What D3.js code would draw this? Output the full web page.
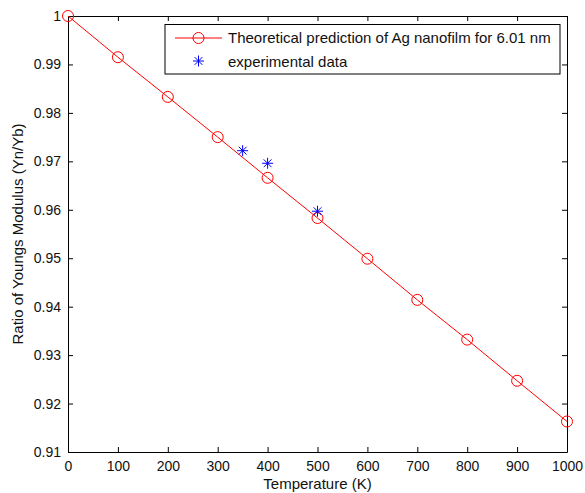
<!DOCTYPE html>
<html>
<head>
<meta charset="utf-8">
<script src="https://cdn.jsdelivr.net/npm/d3@7"></script>
<style>
  body { margin: 0; background: #fff; }
  text { font-family: "Liberation Sans", Arial, sans-serif; }
</style>
</head>
<body>
<div id="chart"></div>
<script>
// theoretical curve
var temps = [0, 100, 200, 300, 400, 500, 600, 700, 800, 900, 1000];
var ratio = [1.0, 0.9915, 0.9833, 0.975, 0.9666, 0.9583, 0.9499, 0.9414, 0.9332, 0.9247, 0.9163];

// experimental points
var expTemps = [350, 400, 500];
var expRatio = [0.9722, 0.9696, 0.9597];

var xTicks = [0, 100, 200, 300, 400, 500, 600, 700, 800, 900, 1000];
var yTicks = [0.91, 0.92, 0.93, 0.94, 0.95, 0.96, 0.97, 0.98, 0.99, 1];

var width = 585, height = 493;
var mLeft = 68, mRight = 567, mTop = 16, mBottom = 452;

var svg = d3.select("#chart").append("svg")
    .attr("width", width)
    .attr("height", height);

var x = d3.scaleLinear().domain([0, 1000]).range([mLeft, mRight]);
var y = d3.scaleLinear().domain([0.91, 1]).range([mBottom, mTop]);

var fmtY = function(d) { return d === 1 ? "1" : d3.format(".2f")(d); };

// axes, ticks inward on all sides
svg.append("g")
   .attr("transform", `translate(0, ${mBottom})`)
   .call(d3.axisBottom(x).tickValues(xTicks).tickSizeInner(-5).tickSizeOuter(0).tickPadding(9).tickFormat(d3.format("d")));
svg.append("g")
   .attr("transform", `translate(0, ${mTop})`)
   .call(d3.axisTop(x).tickValues(xTicks).tickSizeInner(-5).tickSizeOuter(0).tickFormat(""));
svg.append("g")
   .attr("transform", `translate(${mLeft}, 0)`)
   .call(d3.axisLeft(y).tickValues(yTicks).tickSizeInner(-5).tickSizeOuter(0).tickPadding(7).tickFormat(fmtY));
svg.append("g")
   .attr("transform", `translate(${mRight}, 0)`)
   .call(d3.axisRight(y).tickValues(yTicks).tickSizeInner(-5).tickSizeOuter(0).tickFormat(""));

svg.selectAll(".domain").attr("stroke", "#000").attr("stroke-width", 1);
svg.selectAll(".tick line").attr("stroke", "#000");
svg.selectAll(".tick text").attr("font-size", 14).attr("fill", "#111")
   .attr("font-family", "Liberation Sans, Arial, sans-serif");

// theoretical line
var line = d3.line()
    .x((d, i) => x(temps[i]))
    .y(d => y(d));

svg.append("path")
   .datum(ratio)
   .attr("fill", "none")
   .attr("stroke", "red")
   .attr("stroke-width", 1)
   .attr("d", line);

svg.selectAll(".circ")
   .data(ratio)
   .enter().append("circle")
   .attr("cx", (d, i) => x(temps[i]))
   .attr("cy", d => y(d))
   .attr("r", 5.5)
   .attr("fill", "none")
   .attr("stroke", "red")
   .attr("stroke-width", 1);

function star(g, cx, cy, r) {
    var p = "";
    for (var k = 0; k < 4; k++) {
        var a = k * Math.PI / 4;
        var dx = r * Math.cos(a), dy = r * Math.sin(a);
        p += `M${cx - dx},${cy - dy}L${cx + dx},${cy + dy}`;
    }
    g.append("path").attr("d", p).attr("stroke", "blue").attr("stroke-width", 1).attr("fill", "none");
}

expRatio.forEach(function(d, i) {
    star(svg, x(expTemps[i]), y(d), 5.5);
});

// legend
var lg = svg.append("g");
lg.append("rect")
  .attr("x", 165).attr("y", 24.5)
  .attr("width", 395).attr("height", 49.5)
  .attr("fill", "#fff").attr("stroke", "#000");
lg.append("line")
  .attr("x1", 175).attr("x2", 222).attr("y1", 38).attr("y2", 38)
  .attr("stroke", "red");
lg.append("circle")
  .attr("cx", 198.5).attr("cy", 38).attr("r", 5.5)
  .attr("fill", "none").attr("stroke", "red");
star(lg, 198.5, 61, 5.5);
lg.append("text").attr("x", 228).attr("y", 43).attr("font-size", 15).attr("fill", "#111")
  .text("Theoretical prediction of Ag nanofilm for 6.01 nm");
lg.append("text").attr("x", 228).attr("y", 67).attr("font-size", 15).attr("fill", "#111")
  .text("experimental data");

// axis labels
svg.append("text")
   .attr("x", (mLeft + mRight) / 2).attr("y", 489)
   .attr("text-anchor", "middle").attr("font-size", 15).attr("fill", "#111")
   .text("Temperature (K)");
svg.append("text")
   .attr("transform", `translate(23, ${(mTop + mBottom) / 2}) rotate(-90)`)
   .attr("text-anchor", "middle").attr("font-size", 15).attr("fill", "#111")
   .text("Ratio of Youngs Modulus (Yn/Yb)");
</script>
</body>
</html>
